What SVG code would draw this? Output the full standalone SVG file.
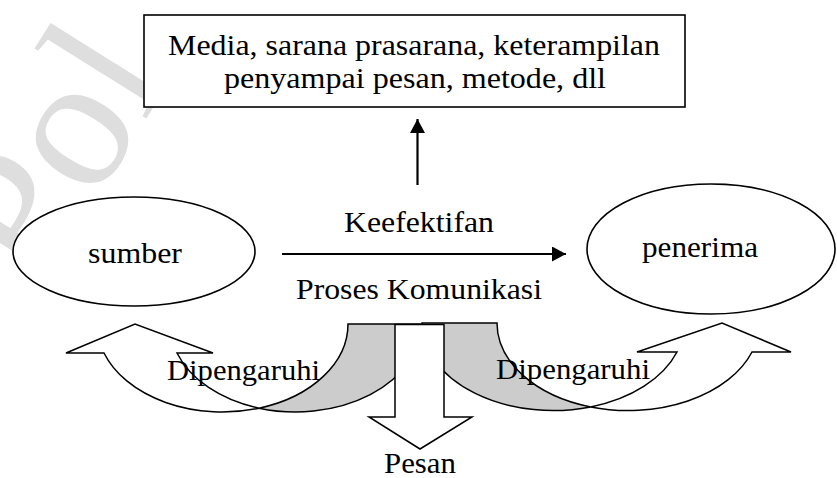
<svg xmlns="http://www.w3.org/2000/svg" width="837" height="478" viewBox="0 0 837 478">
  <defs>
    <style>
      .lbl { font-family: 'Liberation Serif', 'Times New Roman', serif; font-size: 29px; fill: #000; }
      .node { fill: #fff; stroke: #000; stroke-width: 1.6; }
      .edge { fill: none; stroke: #000; stroke-width: 2.2; }
      .band { fill: #fff; stroke: #000; stroke-width: 1.5; stroke-linejoin: miter; }
      .band-back { fill: #cccccc; stroke: #000; stroke-width: 1.5; }
      .mark { font-family: 'Liberation Serif', 'Times New Roman', serif; font-size: 190px; fill: #dedede; }
    </style>
    <marker id="head" markerUnits="userSpaceOnUse" markerWidth="15" markerHeight="16" refX="14" refY="7.5" orient="auto">
      <path d="M0,0 L14,7.5 L0,15 Z" fill="#000"/>
    </marker>
  </defs>

  <rect width="837" height="478" fill="#fff"/>

  <!-- faint background watermark -->
  <text class="mark" x="0" y="0" transform="translate(38,292) rotate(-58)">Pol</text>

  <!-- factors box -->
  <g id="node-media">
    <rect class="node" x="144" y="15" width="541" height="92" stroke-width="2"/>
    <text class="lbl" x="168" y="55" textLength="492" lengthAdjust="spacingAndGlyphs">Media, sarana prasarana, keterampilan</text>
    <text class="lbl" x="224" y="88" textLength="382" lengthAdjust="spacingAndGlyphs">penyampai pesan, metode, dll</text>
  </g>

  <!-- source -->
  <g id="node-sumber">
    <ellipse class="node" cx="134" cy="251.5" rx="121" ry="54.5"/>
    <text class="lbl" x="88" y="263" textLength="94" lengthAdjust="spacingAndGlyphs">sumber</text>
  </g>

  <!-- receiver -->
  <g id="node-penerima">
    <ellipse class="node" cx="711" cy="249" rx="124" ry="65"/>
    <text class="lbl" x="642" y="257" textLength="116" lengthAdjust="spacingAndGlyphs">penerima</text>
  </g>

  <!-- connectors -->
  <g id="connectors">
    <line class="edge" x1="417.5" y1="185" x2="417.5" y2="119" marker-end="url(#head)"/>
    <line class="edge" x1="282" y1="254" x2="566" y2="254" marker-end="url(#head)"/>
    <text class="lbl" x="344" y="232" textLength="150" lengthAdjust="spacingAndGlyphs">Keefektifan</text>
    <text class="lbl" x="296" y="299" textLength="246" lengthAdjust="spacingAndGlyphs">Proses Komunikasi</text>
  </g>

  <!-- curved arrow back to the source -->
  <g id="curve-left">
    <path class="band-back" d="M348,324 L421,324 A125.5,88 0 0 1 259,408.2 A125.5,88 0 0 0 348,324 Z"/>
    <path class="band" d="M104,353 A125.5,88 0 0 0 259,408.2 A125.5,88 0 0 1 177,353 L213,353 L135,324 L66,353 Z"/>
    <text class="lbl" x="167" y="380" textLength="153" lengthAdjust="spacingAndGlyphs">Dipengaruhi</text>
  </g>

  <!-- curved arrow up to the receiver -->
  <g id="curve-right">
    <path class="band-back" d="M497,323 L422,323 A131.2,87.5 0 0 0 590.7,406.9 A131.2,87.5 0 0 1 497,323 Z"/>
    <path class="band" d="M752,352 A131.2,87.5 0 0 1 590.7,406.9 A131.2,87.5 0 0 0 677,352 L637,352 L722,323 L791,352 Z"/>
    <text class="lbl" x="496" y="379" textLength="154" lengthAdjust="spacingAndGlyphs">Dipengaruhi</text>
  </g>

  <!-- message arrow -->
  <g id="arrow-pesan">
    <path class="band" d="M395,324.5 L444,324.5 L444,417 L472,417 L420,449 L369,417 L395,417 Z"/>
    <text class="lbl" x="384" y="473" textLength="72" lengthAdjust="spacingAndGlyphs">Pesan</text>
  </g>
</svg>
